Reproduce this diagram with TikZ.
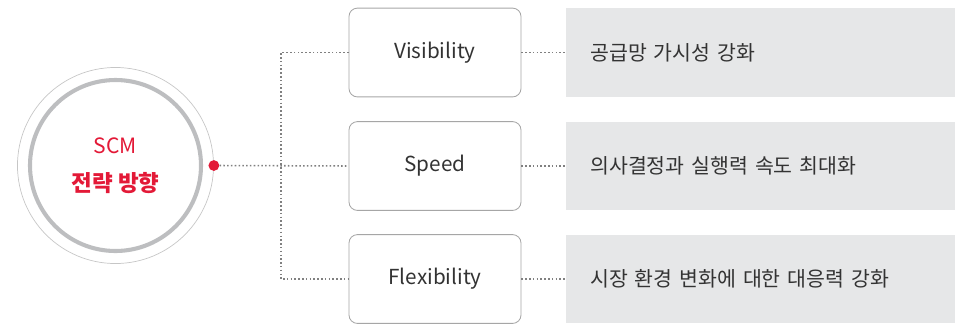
\documentclass[tikz,border=0pt]{standalone}
\usepackage{fontspec}
\setmainfont{Noto Sans CJK KR}
\usepackage{tikz}
\usetikzlibrary{positioning}

\definecolor{scmred}{HTML}{E31937}
\definecolor{ringgray}{HTML}{BDBEC0}
\definecolor{panelgray}{HTML}{E6E7E8}
\definecolor{textgray}{HTML}{333333}

\tikzset{
  factor/.style={draw=gray!70, rounded corners=6pt, line width=0.6pt, fill=white,
    minimum width=4.3cm, minimum height=2.22cm, font=\fontsize{14.7}{16}\selectfont, text=textgray},
  goal/.style={fill=panelgray, minimum width=9.75cm, minimum height=2.22cm,
    text width=8.55cm, inner xsep=0.6cm, align=left, font=\fontsize{14.6}{16}\selectfont, text=textgray},
  dotline/.style={gray, line width=1.1pt, dash pattern=on 1.1pt off 1.6pt}
}

\begin{document}
\begin{tikzpicture}[x=0.025cm, y=-0.025cm]
  \useasboundingbox (0,0) rectangle (955,324);

  % centre circle
  \node[circle, draw=gray!45, line width=0.5pt, minimum size=4.9cm, align=center,
    text=scmred, font=\fontsize{15}{27}\selectfont] (core) at (115.5,165.5)
    {SCM\\ {\fontsize{16}{27}\selectfont\textbf{전략 방향}}};
  \draw[ringgray, line width=2.9pt] (core.center) circle[radius=85.5];
  \node[circle, fill=scmred, inner sep=0pt, minimum size=0.27cm] (dot) at (core.east) {};

  % factors
  \node[factor] (vis) at (435,52.5) {Visibility};
  \node[factor] (spd) at (435,166) {Speed};
  \node[factor] (flx) at (435,279) {Flexibility};

  \node[goal, anchor=west] (g1) at (566,52.5) {공급망 가시성 강화};
  \node[goal, anchor=west] (g2) at (566,166) {의사결정과 실행력 속도 최대화};
  \node[goal, anchor=west] (g3) at (566,279) {시장 환경 변화에 대한 대응력 강화};

  \coordinate (j) at (281,166);
  \draw[dotline] (dot.east) -- (spd.west);
  \draw[dotline] (vis.west) -| (j) |- (flx.west);
  \draw[dotline] (vis.east) -- (g1.west);
  \draw[dotline] (spd.east) -- (g2.west);
  \draw[dotline] (flx.east) -- (g3.west);
\end{tikzpicture}
\end{document}
